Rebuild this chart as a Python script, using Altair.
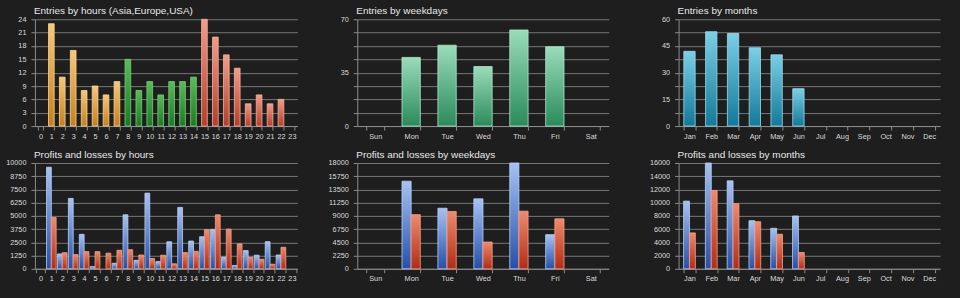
import altair as alt
import pandas as pd

# ---------------- data ----------------
hours = list(range(24))
hour_region = ['Asia'] * 8 + ['Europe'] * 7 + ['USA'] * 9
hour_entries = [0, 23, 11, 17, 8, 9, 7, 10, 15, 8, 10, 7, 10, 10, 11, 24, 20, 16, 13, 5, 7, 5, 6, 0]
hour_profits = [0, 9600, 1400, 6650, 3250, 200, 0, 520, 5100, 800, 7150, 680, 2550, 5800, 2620,
                3030, 3720, 1100, 310, 1720, 1280, 2560, 1300, 0]
hour_losses = [0, 4850, 1520, 1340, 1620, 1620, 1470, 1750, 1800, 1300, 970, 1280, 470, 1530, 1650,
               3700, 5100, 3750, 2350, 1090, 900, 430, 2030, 0]

weekdays = ['Sun', 'Mon', 'Tue', 'Wed', 'Thu', 'Fri', 'Sat']
weekday_entries = [0, 45, 53, 39, 63, 52, 0]
weekday_profits = [0, 14900, 10300, 11900, 18000, 5800, 0]
weekday_losses = [0, 9200, 9750, 4550, 9800, 8500, 0]

months = ['Jan', 'Feb', 'Mar', 'Apr', 'May', 'Jun', 'Jul', 'Aug', 'Sep', 'Oct', 'Nov', 'Dec']
month_entries = [42, 53, 52, 44, 40, 21, 0, 0, 0, 0, 0, 0]
month_profits = [10230, 16000, 13300, 7270, 6120, 7980, 0, 0, 0, 0, 0, 0]
month_losses = [5420, 11840, 9830, 7120, 5220, 2460, 0, 0, 0, 0, 0, 0]

titles = ['Entries by hours (Asia,Europe,USA)', 'Entries by weekdays', 'Entries by months',
          'Profits and losses by hours', 'Profits and losses by weekdays', 'Profits and losses by months']

# ---------------- styles ----------------
BG = '#1e1e1e'


def grad(top, bottom):
    return {"gradient": "linear", "x1": 0, "y1": 0, "x2": 0, "y2": 1,
            "stops": [{"offset": 0, "color": top}, {"offset": 1, "color": bottom}]}


G_ASIA = grad('#f7c879', '#c77f18')
G_EUR = grad('#58bc58', '#1c7a24')
G_USA = grad('#f39c8a', '#b53e28')
G_WEEK = grad('#9adcba', '#2a8a5a')
G_MONTH = grad('#7ccfe6', '#13789a')
G_PROFIT = grad('#a6c2f4', '#264fa8')
G_LOSS = grad('#ef8a6c', '#b02c16')

W1, W2, W3 = 263, 252, 262
H1, H2 = 107, 106


def x_axis():
    return alt.Axis(title=None, labelAngle=0, tickBand='extent', tickSize=4, labelPadding=2,
                    grid=False, domain=True)


def y_axis(values, label_every=None):
    kw = dict(title=None, values=values, grid=True, tickSize=4, labelPadding=5, format='d', domain=True)
    if label_every:
        kw['labelExpr'] = f"datum.value % {label_every} == 0 ? datum.label : ''"
    return alt.Axis(**kw)


def x_enc(cats, pad):
    return alt.X('cat:O', scale=alt.Scale(domain=cats, paddingInner=pad, paddingOuter=pad / 2),
                 axis=x_axis())


def y_enc(ymax, step, label_every=None):
    n = int(round(ymax / step))
    vals = [round(i * step, 4) for i in range(n + 1)]
    return alt.Y('value:Q', scale=alt.Scale(domain=[0, ymax], nice=False, zero=True),
                 axis=y_axis(vals, label_every))


def entries_chart(cats, values, ymax, step, fill, stroke, pad, title, w, h, label_every=None, extra=None):
    df = pd.DataFrame({'cat': cats, 'value': values})
    if extra is not None:
        df['region'] = extra
    return alt.Chart(df).transform_filter('datum.value > 0').mark_bar(strokeWidth=0.8).encode(
        x=x_enc(cats, pad),
        y=y_enc(ymax, step, label_every),
        fill=fill, stroke=stroke,
    ).properties(title=title, width=w, height=h)


def pl_chart(cats, profits, losses, ymax, step, pad, title, w, h):
    n = len(cats)
    df = pd.DataFrame({'cat': list(cats) * 2, 'kind': ['P'] * n + ['L'] * n,
                       'value': list(profits) + list(losses)})
    return alt.Chart(df).transform_filter('datum.value > 0').mark_bar(strokeWidth=0.8).encode(
        x=x_enc(cats, pad),
        xOffset=alt.XOffset('kind:N', scale=alt.Scale(domain=['P', 'L'], paddingInner=0, paddingOuter=0)),
        y=y_enc(ymax, step),
        fill=alt.FillValue(G_LOSS, condition={"test": "datum.kind == 'P'", "value": G_PROFIT}),
        stroke=alt.StrokeValue('#f2a08a', condition={"test": "datum.kind == 'P'", "value": '#b8cff5'}),
    ).properties(title=title, width=w, height=h)


def spacer(w, h):
    return alt.Chart(pd.DataFrame({'v': [0]})).mark_point(opacity=0).encode(
        x=alt.value(0), y=alt.value(0)).properties(width=w, height=h)


hour_fill = alt.FillValue(G_USA, condition=[{"test": "datum.region == 'Asia'", "value": G_ASIA},
                                            {"test": "datum.region == 'Europe'", "value": G_EUR}])
hour_stroke = alt.StrokeValue('#f5b0a0', condition=[{"test": "datum.region == 'Asia'", "value": '#f8d49a'},
                                                    {"test": "datum.region == 'Europe'", "value": '#7acc7a'}])

p1 = entries_chart(hours, hour_entries, 24, 3, hour_fill, hour_stroke, 0.48, titles[0], W1, H1, extra=hour_region)
p2 = entries_chart(weekdays, weekday_entries, 70, 8.75, alt.FillValue(G_WEEK), alt.StrokeValue('#b0e6ca'), 0.49,
                   titles[1], W2, H1, label_every=35)
p3 = entries_chart(months, month_entries, 60, 7.5, alt.FillValue(G_MONTH), alt.StrokeValue('#98dcee'), 0.48,
                   titles[2], W3, H1, label_every=15)

p4 = pl_chart(hours, hour_profits, hour_losses, 10000, 1250, 0.12, titles[3], W1, H2)
p5 = pl_chart(weekdays, weekday_profits, weekday_losses, 18000, 2250, 0.49, titles[4], W2, H2)
p6 = pl_chart(months, month_profits, month_losses, 16000, 2000, 0.46, titles[5], W3, H2)

chart = alt.concat(
    p1, spacer(40, H1), p2, spacer(50, H1), p3,
    p4, spacer(40, H2), p5, spacer(50, H2), p6,
    columns=5, spacing={'row': 37, 'column': 10}, bounds='flush',
).resolve_scale(
    xOffset='independent', x='independent', y='independent',
).properties(
    padding={'left': 5, 'top': 6, 'right': 20, 'bottom': 17},
).configure(
    background=BG,
).configure_view(
    stroke=None,
).configure_axis(
    domainColor='#8c8c8c', tickColor='#8c8c8c', gridColor='#767676', gridWidth=1,
    labelColor='#dcdcdc', labelFont='Liberation Sans', labelFontSize=7.3,
).configure_title(
    anchor='start', frame='group', font='Liberation Sans', fontSize=10, fontWeight='normal', color='#e8e8e8',
    offset=-1, dx=-1,
)

chart.save("out.html", embed_options={"renderer": "svg", "actions": False})
